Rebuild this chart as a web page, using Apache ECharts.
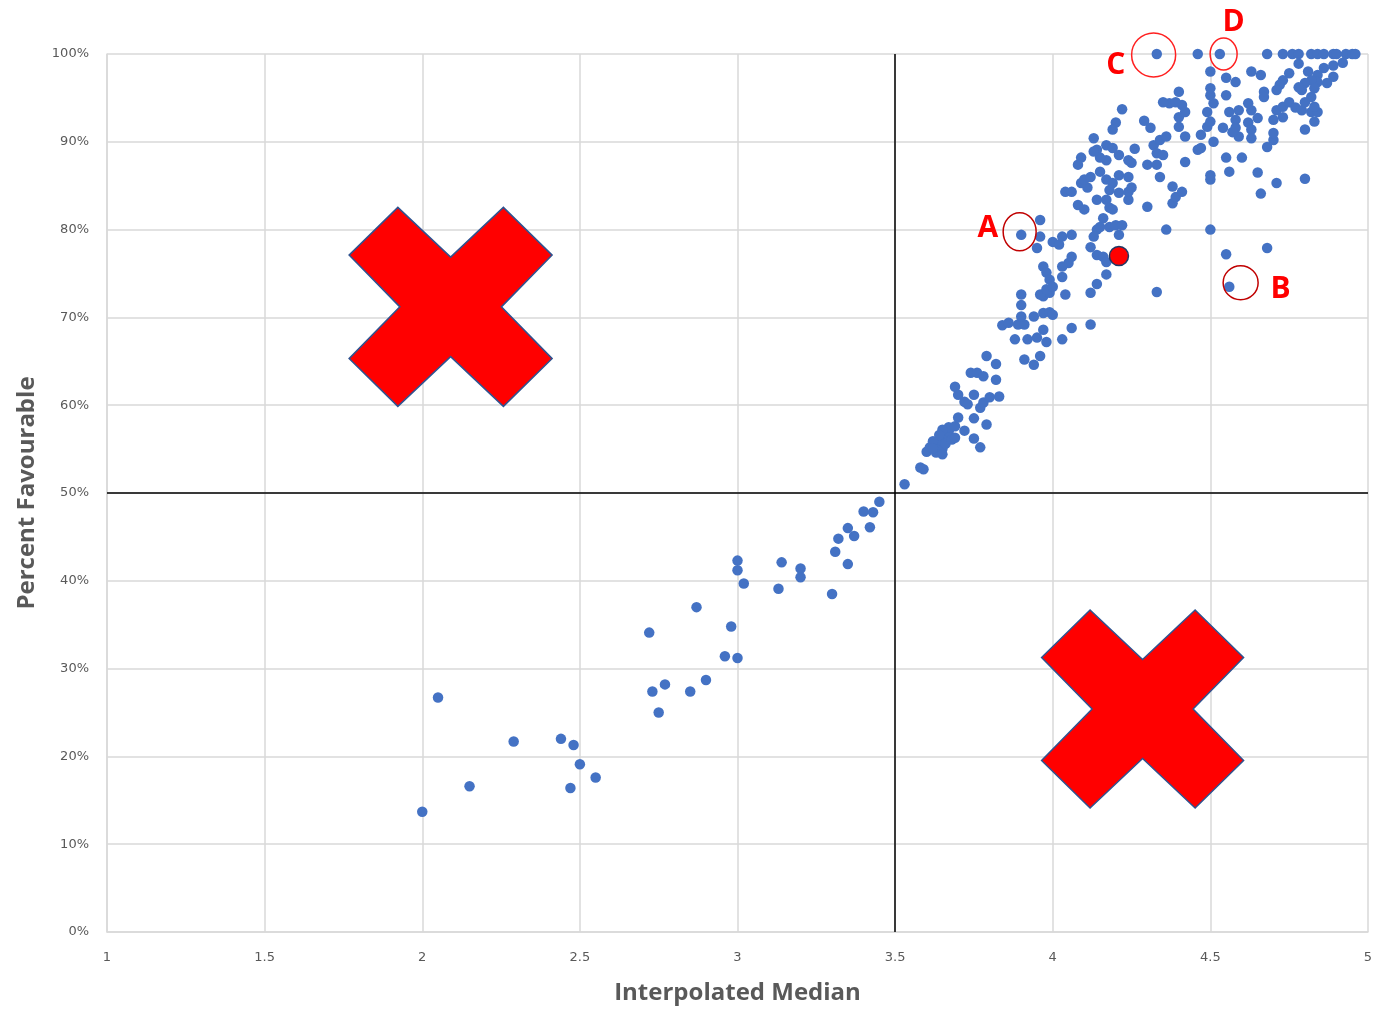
<!DOCTYPE html>
<html><head><meta charset="utf-8">
<script src="https://cdn.jsdelivr.net/npm/echarts@6/dist/echarts.min.js"></script>
<style>html,body{margin:0;padding:0;background:#fff}#c{width:1382px;height:1010px}</style>
</head><body><div id="c"></div>
<script>
// ---- data: [Interpolated Median, Percent Favourable] ----
const groupLow = [[3.45,49.0],[3.40,47.9],[3.43,47.8],[3.42,46.1],[3.35,46.0],[3.37,45.1],[3.32,44.8],[3.31,43.3],[3.35,41.9],[3.00,42.3],[3.00,41.2],[3.02,39.7],[3.14,42.1],[3.13,39.1],[3.20,41.4],[3.20,40.4],[3.30,38.5],[2.87,37.0],[2.72,34.1],[2.98,34.8],[2.96,31.4],[3.00,31.2],[2.73,27.4],[2.77,28.2],[2.85,27.4],[2.90,28.7],[2.75,25.0],[2.05,26.7],[2.29,21.7],[2.44,22.0],[2.48,21.3],[2.50,19.1],[2.55,17.6],[2.47,16.4],[2.15,16.6],[2.00,13.7]];
const groupMid = [[3.53,51.0],[3.58,52.9],[3.59,52.7],[3.60,54.7],[3.61,55.2],[3.63,54.6],[3.63,55.5],[3.64,56.1],[3.65,55.0],[3.66,56.6],[3.66,55.6],[3.67,57.0],[3.67,57.5],[3.68,56.1],[3.69,57.6],[3.65,57.2],[3.64,56.6],[3.62,55.9],[3.69,56.3],[3.65,54.4],[3.62,55.1],[3.70,58.6],[3.72,57.1],[3.75,58.5],[3.75,56.2],[3.77,55.2],[3.79,57.8],[3.77,59.7],[3.78,60.3],[3.80,60.9],[3.83,61.0],[3.72,60.4],[3.73,60.1],[3.69,62.1],[3.70,61.2],[3.75,61.2],[3.74,63.7],[3.76,63.7],[3.78,63.3],[3.82,62.9],[3.79,65.6],[3.82,64.7],[3.91,65.2],[3.94,64.6],[3.96,65.6],[3.88,67.5],[3.92,67.5],[3.95,67.7],[3.98,67.2],[3.84,69.1],[3.86,69.4],[3.89,69.2],[3.91,69.2],[3.97,68.6],[4.03,67.5],[4.06,68.8],[4.12,69.2]];
const groupUpper = [[3.90,70.1],[3.94,70.1],[3.97,70.5],[3.99,70.6],[4.00,70.3],[3.90,71.4],[3.90,72.6],[3.97,72.4],[3.99,72.8],[3.96,72.6],[3.98,73.2],[4.04,72.6],[4.12,72.8],[4.14,73.8],[4.17,74.9],[4.33,72.9],[3.97,75.8],[3.98,75.1],[3.99,74.3],[4.00,73.5],[4.03,74.6],[4.05,76.2],[4.06,76.9],[4.03,75.8],[4.14,77.1],[4.16,76.9],[4.17,76.3],[3.90,79.4],[3.96,81.1],[3.96,79.2],[3.95,77.9],[4.00,78.6],[4.02,78.3],[4.03,79.2],[4.06,79.4],[4.14,80.0],[4.16,81.3],[4.15,80.3],[4.13,79.2],[4.12,78.0],[4.18,80.3],[4.20,80.5],[4.22,80.5],[4.21,79.4],[4.36,80.0],[4.50,80.0],[4.68,77.9],[4.55,77.2],[4.56,73.5],[4.30,82.6],[4.38,83.0],[4.39,83.7],[4.08,82.8],[4.10,82.3],[4.14,83.4],[4.17,83.4],[4.18,82.5],[4.19,82.3],[4.24,83.4],[4.04,84.3],[4.06,84.3],[4.11,84.8],[4.09,85.3],[4.10,85.7],[4.17,85.7],[4.19,85.3],[4.21,84.2],[4.24,84.3],[4.25,84.8],[4.18,84.5],[4.38,84.9],[4.41,84.3],[4.66,84.1],[4.71,85.3],[4.80,85.8],[4.50,85.7]];
const groupTop = [[4.12,86.0],[4.21,86.2],[4.24,86.0],[4.15,86.6],[4.34,86.0],[4.50,86.2],[4.56,86.6],[4.65,86.5],[4.17,87.9],[4.25,87.6],[4.09,88.2],[4.08,87.4],[4.15,88.2],[4.24,87.9],[4.30,87.4],[4.33,87.4],[4.42,87.7],[4.55,88.2],[4.60,88.2],[4.13,90.4],[4.17,89.6],[4.14,89.1],[4.13,88.9],[4.19,89.3],[4.21,88.5],[4.26,89.2],[4.32,89.6],[4.34,90.2],[4.36,90.6],[4.33,88.7],[4.35,88.5],[4.46,89.1],[4.47,89.3],[4.51,90.0],[4.68,89.4],[4.70,90.2],[4.70,91.0],[4.22,93.7],[4.20,92.2],[4.19,91.4],[4.29,92.4],[4.31,91.6],[4.40,91.7],[4.42,90.6],[4.40,92.8],[4.42,93.4],[4.41,94.2],[4.37,94.4],[4.35,94.5],[4.39,94.5],[4.40,95.7],[4.47,90.8],[4.49,91.7],[4.50,92.3],[4.49,93.4],[4.51,94.4],[4.50,95.3],[4.55,95.3],[4.50,96.1],[4.50,98.0],[4.55,97.3],[4.58,96.8],[4.56,93.4],[4.59,93.6],[4.62,94.4],[4.63,93.6],[4.65,92.7],[4.62,92.2],[4.58,92.5],[4.58,91.6],[4.59,90.6],[4.54,91.6],[4.57,91.1],[4.63,91.4],[4.63,90.4],[4.63,98.0],[4.66,97.6],[4.67,95.7],[4.67,95.1],[4.71,93.6],[4.73,94.0],[4.75,94.5],[4.77,93.9],[4.79,93.6],[4.82,93.4],[4.84,93.4],[4.73,92.8],[4.70,92.5],[4.83,92.3],[4.80,91.4],[4.75,97.8],[4.73,97.0],[4.72,96.5],[4.71,95.9],[4.81,98.0],[4.84,97.6],[4.86,98.4],[4.89,97.4],[4.87,96.7],[4.84,96.8],[4.82,97.0],[4.80,96.7],[4.83,96.1],[4.79,95.9],[4.78,96.2],[4.82,95.1],[4.80,94.5],[4.83,94.0],[4.78,98.9],[4.89,98.7],[4.92,99.0]];
const topRowMedians = [4.33,4.46,4.53,4.68,4.73,4.76,4.78,4.82,4.84,4.86,4.89,4.90,4.93,4.95,4.96];
const topRowPercent = 100;
const highlightPoint = [4.21, 77.0];
const quadrantX = 3.5;
const quadrantY = 50;

const allPoints = groupLow.concat(groupMid, groupUpper, groupTop, topRowMedians.map(m => [m, topRowPercent]));

const font = 'DejaVu Sans';
const chart = echarts.init(document.getElementById('c'));
chart.setOption({
  animation: false,
  grid: {left: 107, right: 14, top: 54, bottom: 77},
  xAxis: {
    type: 'value', min: 1, max: 5, interval: 0.5,
    name: 'Interpolated Median', nameLocation: 'middle', nameGap: 49,
    nameTextStyle: {fontFamily: 'Open Sans', fontSize: 24, fontWeight: 'bold', color: '#595959'},
    axisLine: {show: true, lineStyle: {color: '#d9d9d9', width: 1.5}},
    axisTick: {show: false},
    axisLabel: {color: '#595959', fontFamily: font, fontSize: 13, margin: 19},
    splitLine: {show: true, lineStyle: {color: '#d9d9d9', width: 1.5}}
  },
  yAxis: {
    type: 'value', min: 0, max: 100, interval: 10,
    name: 'Percent Favourable', nameLocation: 'middle', nameGap: 68,
    nameTextStyle: {fontFamily: 'Open Sans', fontSize: 24, fontWeight: 'bold', color: '#595959'},
    axisLine: {show: true, lineStyle: {color: '#d9d9d9', width: 1.5}},
    axisTick: {show: false},
    axisLabel: {color: '#595959', fontFamily: font, fontSize: 13, margin: 18, formatter: '{value}%'},
    splitLine: {show: true, lineStyle: {color: '#d9d9d9', width: 1.5}}
  },
  series: [
    {
      type: 'scatter', data: allPoints, symbolSize: 10.5,
      itemStyle: {color: '#4472c4', opacity: 1},
      markLine: {
        silent: true, symbol: ['none', 'none'], label: {show: false},
        lineStyle: {color: '#000', width: 1.5, type: 'solid'},
        data: [{xAxis: quadrantX}, {yAxis: quadrantY}]
      }
    },
    {
      type: 'scatter', data: [highlightPoint], symbolSize: 19, z: 3,
      itemStyle: {color: '#ff0000', borderColor: '#203864', borderWidth: 1.5, opacity: 1}
    }
  ]
});

// ---- annotations anchored in data space ----
const crossShape = [[24,0],[50,25],[76,0],[100,24],[75,50],[100,76],[76,100],[50,75],[24,100],[0,76],[25,50],[0,24]];
const crosses = [{x: 2.09, y: 71.2, w: 203, h: 199}, {x: 4.285, y: 25.4, w: 202, h: 198}];
const rings = [
  {x: 4.32, y: 99.9, rx: 22, ry: 22, color: '#ff2020'},
  {x: 4.542, y: 100, rx: 13.5, ry: 16, color: '#ff2020'},
  {x: 3.895, y: 79.75, rx: 16.5, ry: 19, color: '#c00000'},
  {x: 4.596, y: 73.95, rx: 17.5, ry: 17, color: '#c00000'}
];
const letters = [
  {t: 'C', x: 4.20, y: 98.75}, {t: 'D', x: 4.574, y: 103.64},
  {t: 'A', x: 3.794, y: 80.09}, {t: 'B', x: 4.723, y: 73.15}
];
const toPx = p => chart.convertToPixel({gridIndex: 0}, p);
const g = [];
crosses.forEach(c => {
  const [cx, cy] = toPx([c.x, c.y]);
  g.push({type: 'polygon', z: 10,
    shape: {points: crossShape.map(([u, v]) => [cx - c.w / 2 + u * c.w / 100, cy - c.h / 2 + v * c.h / 100])},
    style: {fill: '#ff0000', stroke: '#2f528f', lineWidth: 1.5}});
});
rings.forEach(r => {
  const [cx, cy] = toPx([r.x, r.y]);
  g.push({type: 'ellipse', z: 10, shape: {cx, cy, rx: r.rx, ry: r.ry},
    style: {fill: 'none', stroke: r.color, lineWidth: 1.5}});
});
letters.forEach(l => {
  const [x, y] = toPx([l.x, l.y]);
  g.push({type: 'text', z: 10, x, y,
    style: {text: l.t, fill: '#ff0000', fontSize: 30, fontWeight: 'bold', fontFamily: 'Open Sans', align: 'center', verticalAlign: 'middle'}});
});
chart.setOption({graphic: g});
</script>
</body></html>
